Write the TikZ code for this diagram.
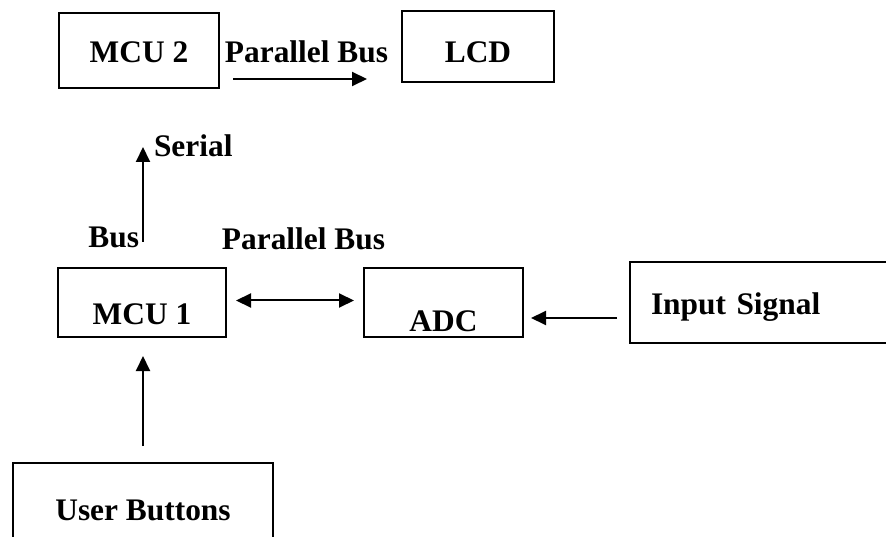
\documentclass[tikz,border=0pt]{standalone}
\usepackage{fontspec}
\setmainfont{Liberation Serif}
\usetikzlibrary{arrows.meta, positioning}

\begin{document}
\begin{tikzpicture}[
  x=1pt, y=-1pt,
  box/.style={rectangle,draw,line width=2pt,inner sep=0pt,
              font=\fontsize{31.4}{36}\selectfont\bfseries},
  lbl/.style={inner sep=0pt,font=\fontsize{31.4}{36}\selectfont\bfseries},
  arrow/.style={-{Triangle[length=15pt,width=14pt]},line width=2pt},
  twoway/.style={{Triangle[length=15pt,width=14pt]}-{Triangle[length=15pt,width=14pt]},line width=2pt}
]
  \useasboundingbox (0,0) rectangle (886,537);
  \clip (0,0) rectangle (886,537);

  \node[box, minimum width=160pt, text height=50pt, text depth=25pt] (mcu2)  at (139,50.5)  {MCU 2};
  \node[box, minimum width=152pt, text height=52pt, text depth=19pt] (lcd)   at (478,46.5)  {LCD};
  \node[box, minimum width=168pt, text height=56pt, text depth=13pt] (mcu1)  at (142,302.5) {MCU 1};
  \node[box, minimum width=159pt, text height=63pt, text depth=6pt]  (adc)   at (443.5,302.5) {ADC};
  \node[box, anchor=west, text width=250pt, align=left, inner xsep=21pt,
        text height=53pt, text depth=28pt]                           (input) at (629,302.5) {Input Signal};
  \node[box, minimum width=260pt, text height=57pt, text depth=40pt] (user)  at (143,511.5) {User Buttons};
  \coordinate (serialtip) at (143,147);

  \draw[arrow] ([shift={(13,-10)}]mcu2.south east) -- ([shift={(-34,-4)}]lcd.south west)
    node[lbl, pos=0.5, anchor=base, shift={(6.5,-16)}] {Parallel Bus};
  \draw[arrow] ([shift={(1,-25)}]mcu1.north) -- (serialtip)
    node[lbl, pos=1, anchor=base west, shift={(10,10)}] {Serial}
    node[lbl, pos=0, anchor=base east, shift={(-3,6)}] {Bus};
  \draw[twoway] ([shift={(9,-2)}]mcu1.east) -- ([shift={(-9,-2)}]adc.west)
    node[lbl, pos=0.5, anchor=base, shift={(8.5,-51)}] {Parallel Bus};
  \draw[arrow] ([shift={(-12,15.5)}]input.west) -- ([shift={(7,15.5)}]adc.east);
  \draw[arrow] ([shift={(0,-16)}]user.north) -- ([shift={(1,18)}]mcu1.south);
\end{tikzpicture}
\end{document}
